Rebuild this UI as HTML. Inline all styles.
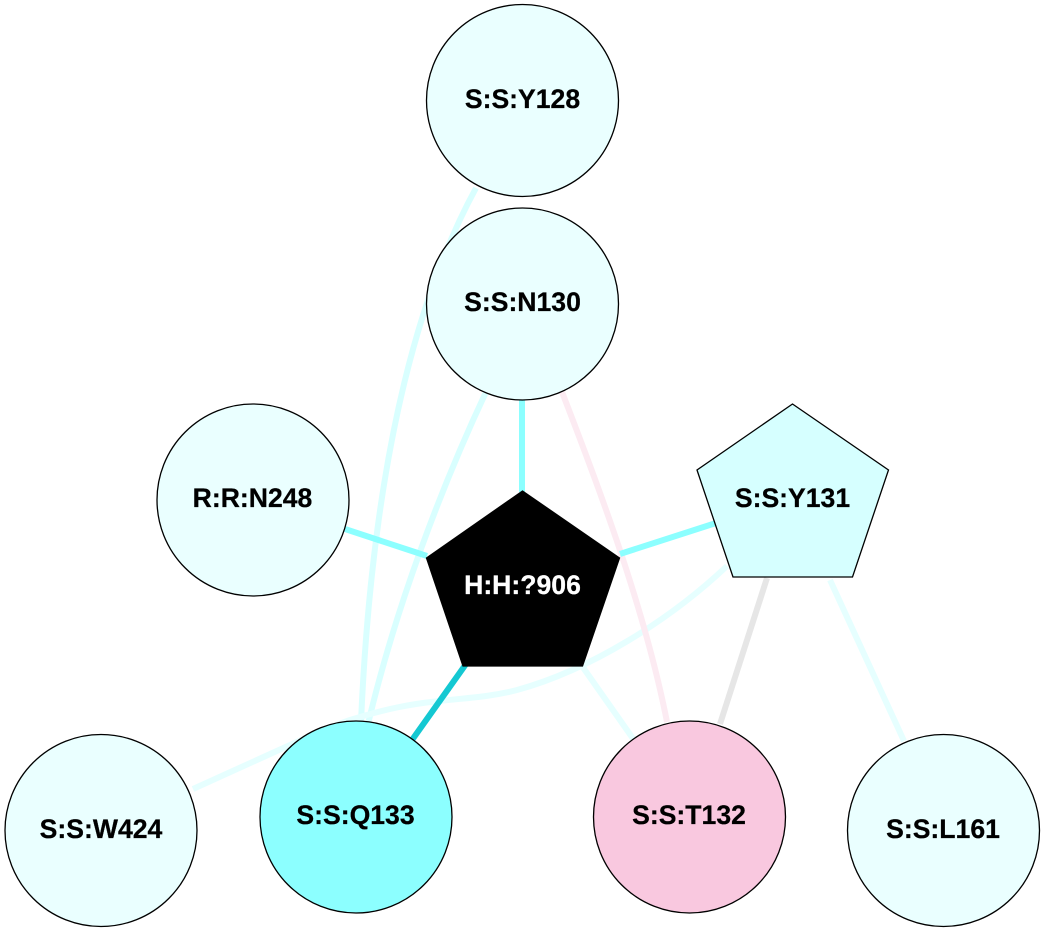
<!DOCTYPE html>
<html>
<head>
<meta charset="utf-8">
<style>
html,body{margin:0;padding:0;background:#fff;}
svg{display:block;}
text{font-family:"Liberation Sans",sans-serif;font-weight:bold;font-size:26.6px;text-anchor:middle;stroke:#000;stroke-width:.25px;}
text.w{fill:#fff;stroke:#fff;}
</style>
</head>
<body>
<svg width="1045" height="932" viewBox="0 0 1045 932" xmlns="http://www.w3.org/2000/svg">
<rect width="1045" height="932" fill="#fff"/>
<g fill="none" stroke-width="6">
<path d="M476 188 C415 300 372 470 361 722" stroke="#d9ffff"/>
<path d="M486 392 C440 490 395 610 368 724" stroke="#d9ffff"/>
<path d="M727 566 C670 620 590 670 517 690 C490 697 465 698 440 701 C410 704 385 709 350 720 C330 727 310 736 290 745 L193 789" stroke="#e6ffff"/>
<path d="M582 666 L634 740" stroke="#e6ffff"/>
<path d="M830 580 L904 741" stroke="#e6ffff"/>
<path d="M562 392 C600 490 645 610 667 722" stroke="#fcebf2"/>
<path d="M767 578 L720 724" stroke="#e6e6e6"/>
<path d="M522 398 L522 492" stroke="#8cffff"/>
<path d="M345 529 L427 556" stroke="#8cffff"/>
<path d="M620 554 L716 523" stroke="#8cffff"/>
<path d="M466 664 L412 740" stroke="#14c8d2"/>
</g>
<g stroke="#000" stroke-width="1.3">
<circle cx="522.500" cy="100.500" r="96" fill="#eaffff"/>
<circle cx="522.500" cy="304" r="96" fill="#eaffff"/>
<circle cx="253" cy="500" r="96" fill="#eaffff"/>
<circle cx="101" cy="830.500" r="96" fill="#eaffff"/>
<circle cx="356" cy="817" r="96" fill="#8cffff"/>
<circle cx="689.500" cy="817" r="96" fill="#f9c8df"/>
<circle cx="943.500" cy="830.500" r="96" fill="#eaffff"/>
<polygon points="792.500,404 888.500,470 852.500,577 733,577 697,470" fill="#d6ffff"/>
<polygon points="522.500,491 619.500,558 582.500,666 463,666 426.500,558" fill="#000"/>
</g>
<text x="522.500" y="108">S:S:Y128</text>
<text x="522.500" y="311">S:S:N130</text>
<text x="252.500" y="507">R:R:N248</text>
<text x="792.500" y="507">S:S:Y131</text>
<text class="w" x="522.500" y="594">H:H:?906</text>
<text x="101" y="838">S:S:W424</text>
<text x="355.500" y="824">S:S:Q133</text>
<text x="689" y="824">S:S:T132</text>
<text x="943" y="838">S:S:L161</text>
</svg>
</body>
</html>
